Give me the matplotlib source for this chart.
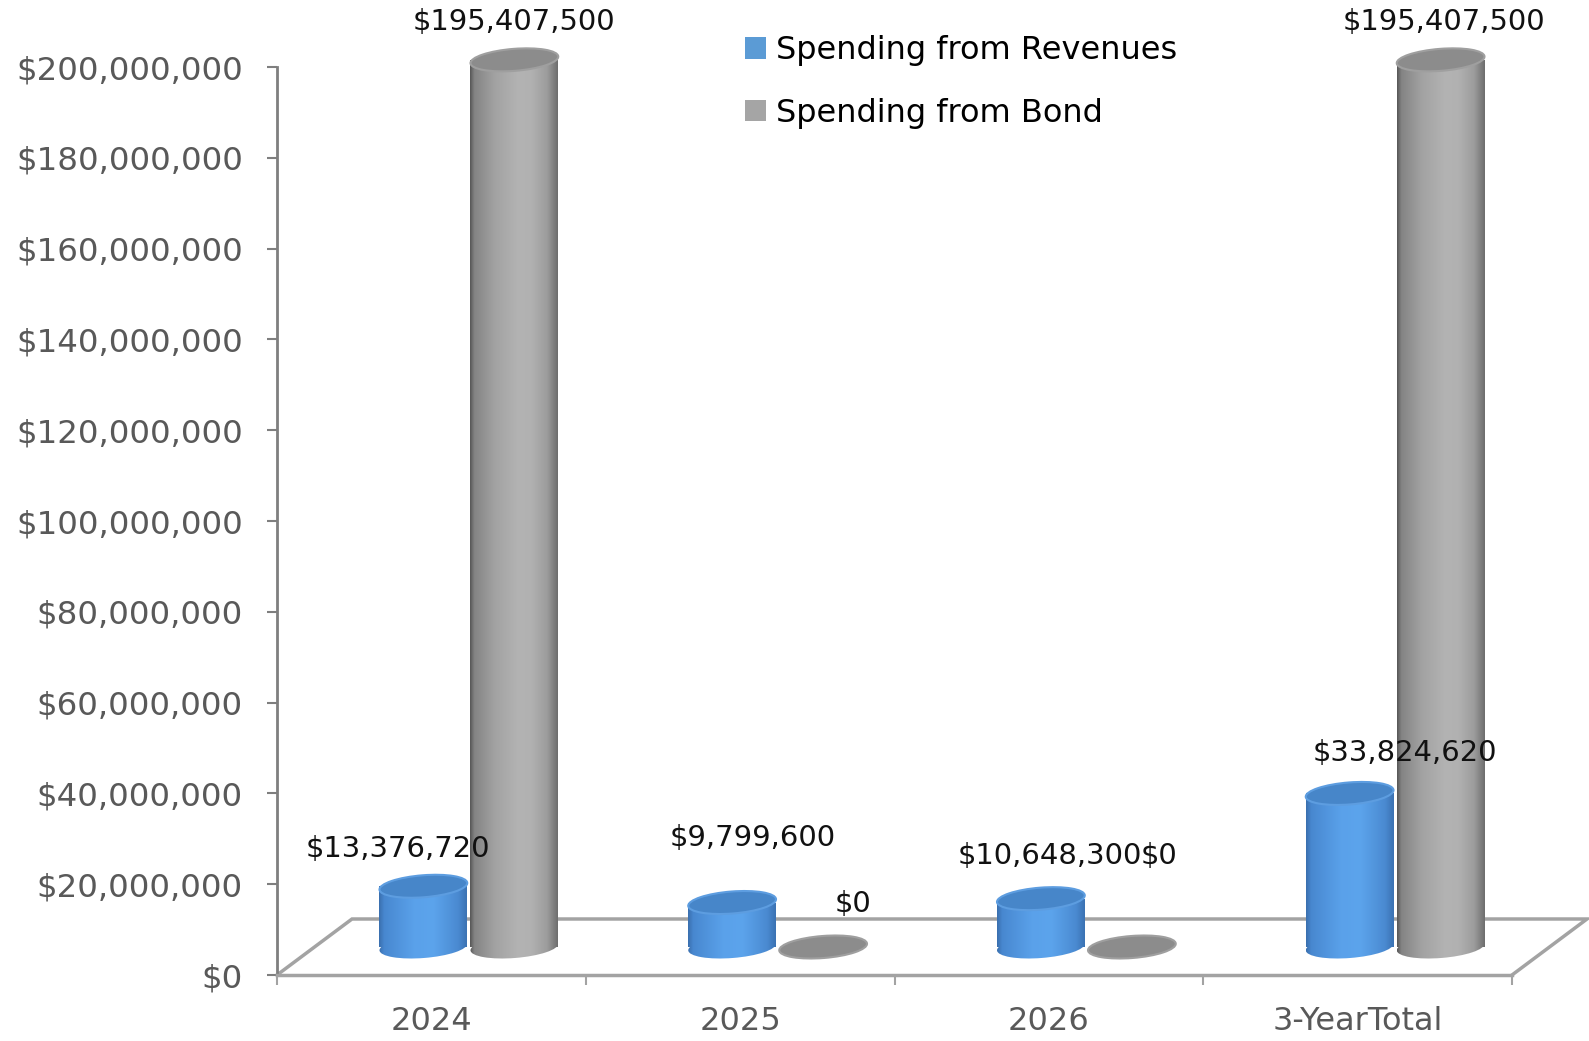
import numpy as np
import matplotlib
matplotlib.use('Agg')
import matplotlib.pyplot as plt
from matplotlib import transforms as mtransforms
from matplotlib.patches import Ellipse, Patch
from matplotlib.colors import LinearSegmentedColormap
from matplotlib.ticker import FuncFormatter, FixedLocator

# ---------------- data ----------------
categories = ['2024', '2025', '2026', '3-YearTotal']
revenues = [13376720, 9799600, 10648300, 33824620]
bond = [195407500, 0, 0, 195407500]
series_names = ['Spending from Revenues', 'Spending from Bond']
y_ticks = [0, 20000000, 40000000, 60000000, 80000000, 100000000,
           120000000, 140000000, 160000000, 180000000, 200000000]

# label offsets (pixels, relative to top centre of each cylinder)
rev_label_off = [(-26, 37), (21, 65), (9, 43), (55, 40)]
bond_label_off = [(0, 38), (30, 43), (27, 91), (3, 38)]

plt.rcParams['font.family'] = ['DejaVu Sans']

W, H = 1589, 1041
fig = plt.figure(figsize=(W / 100, H / 100), dpi=100)

x_px0, x_px1 = 277, 1512
y_px0 = 66
ppy = 908 / 200e6
ymax = 214e6
ax = fig.add_axes([x_px0 / W, y_px0 / H, (x_px1 - x_px0) / W, ymax * ppy / H])
ax.set_xlim(0, len(categories))
ax.set_ylim(0, ymax)
ax.patch.set_alpha(0)
ppx = (x_px1 - x_px0) / len(categories)

depth_dx = 75 / ppx
depth_dy = 56 / ppy

# floor
floor_col = '#a3a3a3'
ax.plot([0, depth_dx, len(categories) + depth_dx, len(categories)],
        [0, depth_dy, depth_dy, 0], color=floor_col, lw=2.5,
        clip_on=False, zorder=1, solid_joinstyle='miter')

for s in ['top', 'right']:
    ax.spines[s].set_visible(False)
ax.spines['left'].set_color('#7f7f7f')
ax.spines['left'].set_linewidth(2)
ax.spines['left'].set_bounds(0, 200e6)
ax.spines['bottom'].set_color(floor_col)
ax.spines['bottom'].set_linewidth(2.5)

ax.yaxis.set_major_locator(FixedLocator(y_ticks))
ax.yaxis.set_major_formatter(FuncFormatter(lambda v, p: f"${v:,.0f}"))
ax.tick_params(axis='y', length=7.5, width=1.5, color='#7f7f7f', pad=17,
               labelsize=23.3, labelcolor='#595959')

ax.xaxis.set_major_locator(FixedLocator(np.arange(len(categories) + 1)))
ax.xaxis.set_major_formatter(FuncFormatter(lambda v, p: ''))
ax.set_xticks(np.arange(len(categories)) + 0.5, categories, minor=True)
ax.tick_params(axis='x', which='major', length=7.5, width=1.5, color=floor_col)
ax.tick_params(axis='x', which='minor', length=0, pad=22, labelsize=23,
               labelcolor='#595959')

# ---------------- cylinders ----------------
bar_w = 88 / ppx
off = 45.5 / ppx
idx = np.arange(len(categories))
centers = idx + 0.5 + depth_dx / 2
base = depth_dy / 2
ell_w_px, ell_h_px, ell_ang = 88, 22, 4.5

blue_cmap = LinearSegmentedColormap.from_list('b', [
    (0.0, '#3a6fae'), (0.06, '#4888d0'), (0.4, '#5aa1ea'), (0.62, '#5ca4ec'),
    (0.9, '#4a8ad1'), (1.0, '#3b72b3')])
gray_cmap = LinearSegmentedColormap.from_list('g', [
    (0.0, '#575757'), (0.05, '#848484'), (0.28, '#a2a2a2'), (0.55, '#b3b3b3'),
    (0.7, '#b1b1b1'), (0.88, '#9c9c9c'), (1.0, '#6e6e6e')])
grad = np.linspace(0, 1, 256).reshape(1, -1)

b1 = ax.bar(centers - off, revenues, width=bar_w, bottom=base,
            color='none', edgecolor='none', zorder=3)
b2 = ax.bar(centers + off, bond, width=bar_w, bottom=base,
            color='none', edgecolor='none', zorder=3)


def draw_cyl(patch, cmap, top_fc, top_ec, z):
    x0, y0 = patch.get_x(), patch.get_y()
    w, h = patch.get_width(), patch.get_height()
    xc = x0 + w / 2
    ext_y0 = y0 - 14 / ppy
    # bottom ellipse
    be = Ellipse((0, 0), ell_w_px, ell_h_px, angle=ell_ang,
                 transform=mtransforms.ScaledTranslation(xc, y0, ax.transData),
                 facecolor='none', edgecolor='none', zorder=z)
    ax.add_patch(be)
    im2 = ax.imshow(grad, extent=[x0, x0 + w, ext_y0, y0 + 14 / ppy],
                    aspect='auto', cmap=cmap, zorder=z, interpolation='bilinear')
    im2.set_clip_path(be)
    # body
    if h > 0:
        im = ax.imshow(grad, extent=[x0, x0 + w, y0, y0 + h], aspect='auto',
                       cmap=cmap, zorder=z, interpolation='bilinear')
        im.set_clip_path(patch)
    # top ellipse
    te = Ellipse((0, 0), ell_w_px, ell_h_px, angle=ell_ang,
                 transform=mtransforms.ScaledTranslation(xc, y0 + h, ax.transData),
                 facecolor=top_fc, edgecolor=top_ec, lw=1.5, zorder=z + 0.1)
    ax.add_patch(te)


for p in b1.patches:
    draw_cyl(p, blue_cmap, '#4786c9', '#5d9de0', 4)
for p in b2.patches:
    draw_cyl(p, gray_cmap, '#8c8c8c', '#9f9f9f', 5)

ax.set_xlim(0, len(categories))
ax.set_ylim(0, ymax)

# ---------------- data labels ----------------
for vals, bars, offs in [(revenues, b1, rev_label_off), (bond, b2, bond_label_off)]:
    for v, p, (dx, dy) in zip(vals, bars.patches, offs):
        ax.annotate(f"${v:,.0f}", xy=(p.get_x() + p.get_width() / 2, p.get_y() + p.get_height()),
                    xytext=(dx, dy), textcoords='offset pixels', ha='center', va='center',
                    fontsize=20.9, color='#111111', zorder=10, annotation_clip=False)

# ---------------- legend ----------------
handles = [Patch(facecolor='#5b9bd5', edgecolor='none'),
           Patch(facecolor='#a5a5a5', edgecolor='none')]
fig.legend(handles=handles, labels=series_names, loc='upper left',
           bbox_to_anchor=(745 / W, 1 - 35 / H), frameon=False, fontsize=23,
           handlelength=0.66, handleheight=0.66, handletextpad=0.31,
           labelspacing=1.0, borderaxespad=0, borderpad=0)

fig.savefig('out.png', dpi=100)
